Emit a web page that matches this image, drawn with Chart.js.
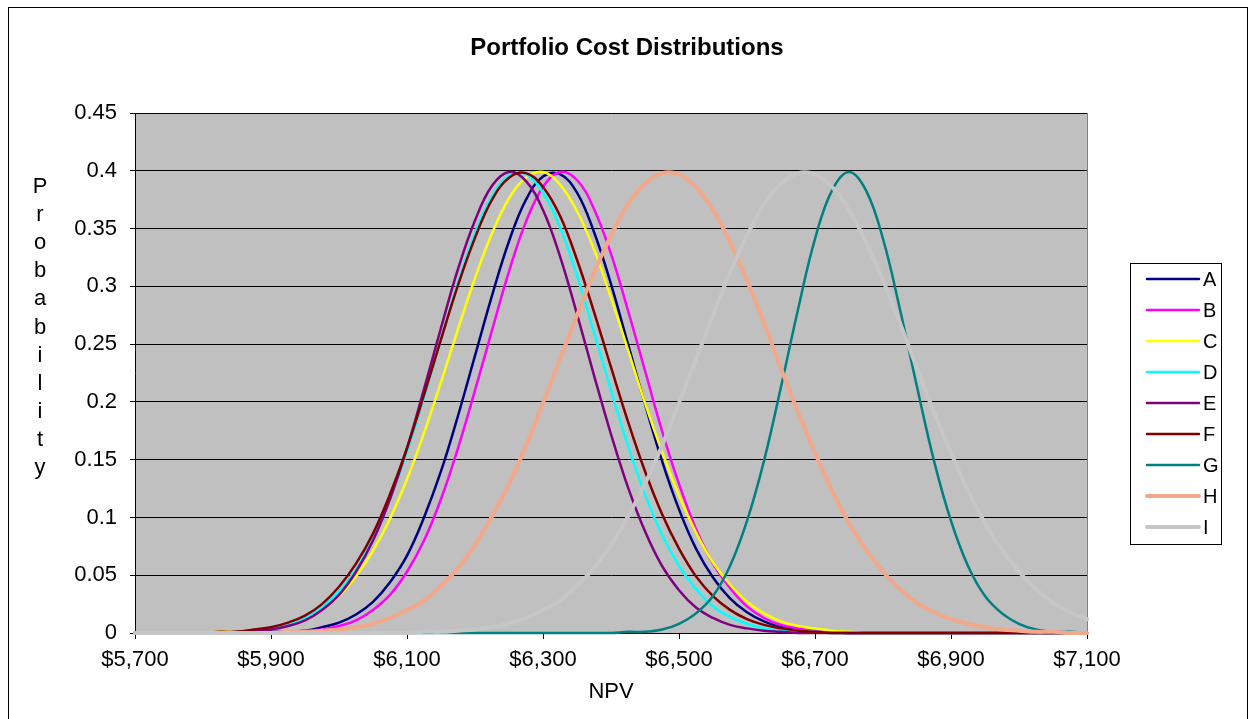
<!DOCTYPE html>
<html>
<head>
<meta charset="utf-8">
<title>Portfolio Cost Distributions</title>
<script src="https://cdn.jsdelivr.net/npm/chart.js@4/dist/chart.umd.min.js"></script>
<style>
  html, body { margin: 0; padding: 0; background: #fff; }
  canvas { display: block; }
</style>
</head>
<body>
<canvas id="c" width="1252" height="719"></canvas>
<script>
// NPV values ($) at which each distribution is sampled
const npv = [
  5700, 5725, 5750, 5775, 5800, 5825, 5850, 5875,
  5900, 5925, 5950, 5975, 6000, 6025, 6050, 6075,
  6100, 6125, 6150, 6175, 6200, 6225, 6250, 6275,
  6300, 6325, 6350, 6375, 6400, 6425, 6450, 6475,
  6500, 6525, 6550, 6575, 6600, 6625, 6650, 6675,
  6700, 6725, 6750, 6775, 6800, 6825, 6850, 6875,
  6900, 6925, 6950, 6975, 7000, 7025, 7050, 7075,
  7100
];

const seriesNames = ['A', 'B', 'C', 'D', 'E', 'F', 'G', 'H', 'I'];

// Probability for each portfolio, one value per NPV point
const probA = [
  0, 0, 0, 0, 0, 0, 0, 0,
  0.001, 0.001, 0.002, 0.005, 0.009, 0.016, 0.027, 0.044,
  0.067, 0.100, 0.140, 0.188, 0.240, 0.292, 0.339, 0.375,
  0.395, 0.397, 0.381, 0.347, 0.302, 0.250, 0.198, 0.149,
  0.107, 0.073, 0.048, 0.030, 0.018, 0.010, 0.005, 0.003,
  0.001, 0.001, 0, 0, 0, 0, 0, 0,
  0, 0, 0, 0, 0, 0, 0, 0,
  0
];
const probB = [
  0, 0, 0, 0, 0, 0, 0, 0,
  0, 0.001, 0.002, 0.003, 0.006, 0.011, 0.020, 0.033,
  0.053, 0.080, 0.116, 0.160, 0.210, 0.262, 0.313, 0.356,
  0.386, 0.399, 0.392, 0.367, 0.328, 0.279, 0.227, 0.175,
  0.129, 0.090, 0.060, 0.039, 0.023, 0.013, 0.007, 0.004,
  0.002, 0.001, 0, 0, 0, 0, 0, 0,
  0, 0, 0, 0, 0, 0, 0, 0,
  0
];
const probC = [
  0, 0, 0, 0, 0, 0.001, 0.001, 0.002,
  0.004, 0.008, 0.013, 0.021, 0.032, 0.049, 0.071, 0.099,
  0.133, 0.173, 0.217, 0.263, 0.307, 0.346, 0.376, 0.394,
  0.399, 0.388, 0.365, 0.332, 0.290, 0.245, 0.199, 0.157,
  0.119, 0.087, 0.061, 0.042, 0.027, 0.017, 0.010, 0.006,
  0.004, 0.002, 0.001, 0, 0, 0, 0, 0,
  0, 0, 0, 0, 0, 0, 0, 0,
  0
];
const probD = [
  0, 0, 0, 0, 0, 0, 0.001, 0.002,
  0.004, 0.007, 0.013, 0.022, 0.036, 0.055, 0.082, 0.116,
  0.157, 0.204, 0.254, 0.303, 0.346, 0.378, 0.396, 0.397,
  0.381, 0.351, 0.309, 0.260, 0.210, 0.162, 0.120, 0.085,
  0.058, 0.038, 0.023, 0.014, 0.008, 0.004, 0.002, 0.001,
  0.001, 0, 0, 0, 0, 0, 0, 0,
  0, 0, 0, 0, 0, 0, 0, 0,
  0
];
const probE = [
  0, 0, 0, 0, 0, 0, 0.001, 0.002,
  0.003, 0.006, 0.011, 0.020, 0.033, 0.053, 0.080, 0.116,
  0.160, 0.211, 0.264, 0.315, 0.357, 0.387, 0.399, 0.391,
  0.366, 0.326, 0.276, 0.223, 0.172, 0.126, 0.088, 0.058,
  0.037, 0.022, 0.013, 0.007, 0.004, 0.002, 0.001, 0,
  0, 0, 0, 0, 0, 0, 0, 0,
  0, 0, 0, 0, 0, 0, 0, 0,
  0
];
const probF = [
  0, 0, 0, 0, 0, 0.001, 0.001, 0.003,
  0.005, 0.009, 0.015, 0.025, 0.040, 0.060, 0.086, 0.120,
  0.160, 0.206, 0.254, 0.301, 0.342, 0.375, 0.394, 0.398,
  0.386, 0.361, 0.323, 0.278, 0.230, 0.183, 0.140, 0.103,
  0.073, 0.049, 0.032, 0.020, 0.012, 0.007, 0.004, 0.002,
  0.001, 0, 0, 0, 0, 0, 0, 0,
  0, 0, 0, 0, 0, 0, 0, 0,
  0
];
const probG = [
  null, null, null, null, null, null, null, null,
  null, null, null, null, null, null, null, null,
  0, 0, 0, 0, 0, 0, 0, 0,
  0, 0, 0, 0, 0, 0.001, 0.001, 0.003,
  0.008, 0.017, 0.032, 0.058, 0.097, 0.149, 0.213, 0.280,
  0.341, 0.383, 0.399, 0.383, 0.341, 0.280, 0.213, 0.149,
  0.097, 0.058, 0.032, 0.017, 0.008, 0.003, 0.001, 0.001,
  0
];
const probH = [
  0, 0, 0, 0, 0, 0, 0, 0,
  0, 0.001, 0.001, 0.002, 0.003, 0.005, 0.008, 0.013,
  0.020, 0.028, 0.041, 0.056, 0.076, 0.101, 0.129, 0.162,
  0.199, 0.237, 0.275, 0.312, 0.344, 0.371, 0.389, 0.398,
  0.397, 0.386, 0.366, 0.338, 0.305, 0.268, 0.229, 0.191,
  0.156, 0.123, 0.095, 0.072, 0.053, 0.038, 0.026, 0.018,
  0.012, 0.008, 0.005, 0.003, 0.002, 0.001, 0.001, 0,
  0
];
const probI = [
  0, 0, 0, 0, 0, 0, 0, 0,
  0, 0, 0, 0, 0, 0, 0, 0,
  0, 0.001, 0.001, 0.002, 0.003, 0.005, 0.008, 0.013,
  0.020, 0.028, 0.041, 0.056, 0.076, 0.101, 0.129, 0.162,
  0.199, 0.237, 0.275, 0.312, 0.344, 0.371, 0.389, 0.398,
  0.397, 0.386, 0.366, 0.338, 0.305, 0.268, 0.229, 0.191,
  0.156, 0.123, 0.095, 0.072, 0.053, 0.038, 0.026, 0.018,
  0.012
];

// Axis tick values
const xTickValues = [5700, 5900, 6100, 6300, 6500, 6700, 6900, 7100];
const yTickValues = [0, 0.05, 0.1, 0.15, 0.2, 0.25, 0.3, 0.35, 0.4, 0.45];

const allSeries = [probA, probB, probC, probD, probE, probF, probG, probH, probI];
const lineColors = ['#000080', '#FF00FF', '#FFFF00', '#00FFFF', '#800080',
                    '#800000', '#008080', '#F2A88A', '#C6C6C6'];
const lineWidths = [2.5, 2.5, 2.5, 2.5, 2.5, 2.5, 2.5, 4, 4];

const FONT = '"Liberation Sans", Arial, Helvetica, sans-serif';

const datasets = allSeries.map((vals, i) => ({
  label: seriesNames[i],
  data: vals.map((y, k) => ({ x: npv[k], y: y })),
  borderColor: lineColors[i],
  backgroundColor: lineColors[i],
  borderWidth: lineWidths[i],
  borderCapStyle: 'round',
  borderJoinStyle: 'round',
  pointRadius: 0,
  pointHoverRadius: 0,
  fill: false,
  tension: 0.4,
  clip: false,
  spanGaps: false,
  order: allSeries.length - i   // later series are painted on top
}));

// Plot background, frame, titles and the boxed legend
const decor = {
  id: 'decor',
  beforeDraw(chart) {
    const { ctx, chartArea: a } = chart;
    ctx.save();
    ctx.fillStyle = '#ffffff';
    ctx.fillRect(0, 0, chart.width, chart.height);
    ctx.fillStyle = '#C0C0C0';
    ctx.fillRect(a.left, a.top, a.right - a.left, a.bottom - a.top);
    ctx.strokeStyle = '#000';
    ctx.lineWidth = 1;
    ctx.strokeRect(8.5, 7.5, 1239, 740);
    ctx.restore();
  },
  beforeDatasetsDraw(chart) {
    const { ctx, chartArea: a } = chart;
    ctx.save();
    ctx.strokeStyle = '#808080';
    ctx.lineWidth = 1;
    ctx.beginPath();
    ctx.moveTo(a.right + 0.5, a.top);
    ctx.lineTo(a.right + 0.5, a.bottom);
    ctx.stroke();
    ctx.restore();
  },
  afterDraw(chart) {
    const { ctx, chartArea: a } = chart;
    ctx.save();
    ctx.fillStyle = '#000';

    // chart title
    ctx.font = 'bold 24px ' + FONT;
    ctx.textAlign = 'center';
    ctx.textBaseline = 'middle';
    ctx.fillText('Portfolio Cost Distributions', 627, 48);

    // x axis title
    ctx.font = '22px ' + FONT;
    ctx.fillText('NPV', (a.left + a.right) / 2, 692);

    // y axis title, one letter per line
    const word = 'Probability';
    for (let i = 0; i < word.length; i++) {
      ctx.fillText(word[i], 40, 187 + i * 28.1);
    }

    // legend
    const box = { x: 1130.5, y: 263.5, w: 91, h: 281 };
    ctx.fillStyle = '#fff';
    ctx.fillRect(box.x, box.y, box.w, box.h);
    ctx.strokeStyle = '#000';
    ctx.lineWidth = 1;
    ctx.strokeRect(box.x, box.y, box.w, box.h);
    ctx.font = '20px ' + FONT;
    ctx.textAlign = 'left';
    chart.data.datasets.forEach((ds, i) => {
      const y = 279 + i * 31;
      ctx.strokeStyle = ds.borderColor;
      ctx.lineWidth = ds.borderWidth;
      ctx.lineCap = 'round';
      ctx.beginPath();
      ctx.moveTo(1147, y);
      ctx.lineTo(1199, y);
      ctx.stroke();
      ctx.fillStyle = '#000';
      ctx.fillText(ds.label, 1203, y + 1);
    });
    ctx.restore();
  }
};

new Chart(document.getElementById('c'), {
  type: 'line',
  data: { datasets },
  plugins: [decor],
  options: {
    responsive: false,
    animation: false,
    devicePixelRatio: 1,
    events: [],
    layout: { padding: { left: 0, top: 113, right: 165, bottom: 0 } },
    plugins: {
      legend: { display: false },
      title: { display: false },
      tooltip: { enabled: false }
    },
    scales: {
      x: {
        type: 'linear',
        min: 5700,
        max: 7100,
        afterBuildTicks: s => { s.ticks = xTickValues.map(v => ({ value: v })); },
        afterFit: s => { s.height = 86; },
        grid: { drawOnChartArea: false, drawTicks: true, tickLength: 6, color: '#000', lineWidth: 1 },
        border: { display: true, color: '#000', width: 1 },
        ticks: {
          padding: 8,
          autoSkip: false,
          maxRotation: 0,
          color: '#000',
          font: { family: FONT, size: 22 },
          callback: v => '$' + Number(v).toLocaleString('en-US')
        }
      },
      y: {
        type: 'linear',
        min: 0,
        max: 0.45,
        afterBuildTicks: s => { s.ticks = yTickValues.map(v => ({ value: v })); },
        afterFit: s => { s.width = 135; },
        grid: { color: '#000', lineWidth: 1, tickLength: 5 },
        border: { display: true, color: '#000', width: 1 },
        ticks: {
          padding: 13,
          color: '#000',
          font: { family: FONT, size: 22 },
          callback: v => String(+Number(v).toFixed(2))
        }
      }
    }
  }
});
</script>
</body>
</html>
